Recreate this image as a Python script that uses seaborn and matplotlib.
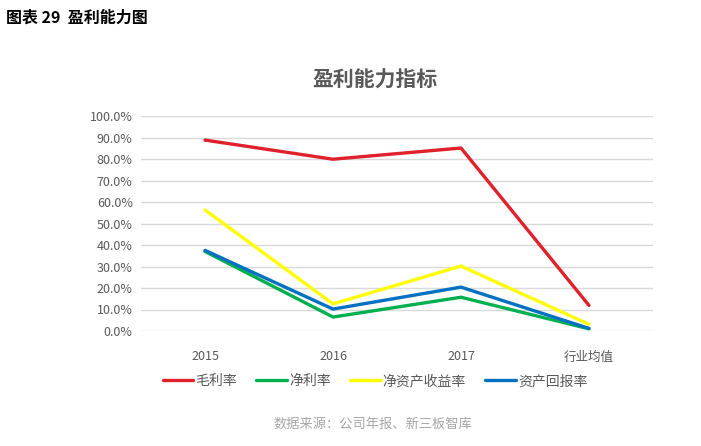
import pandas as pd
import matplotlib
matplotlib.use("Agg")
import matplotlib.pyplot as plt
import seaborn as sns
from matplotlib.ticker import PercentFormatter

# --- Data ---
categories = ["2015", "2016", "2017", "行业均值"]
gross_margin = [0.888, 0.799, 0.851, 0.119]
net_margin = [0.370, 0.065, 0.157, 0.010]
roe = [0.563, 0.126, 0.302, 0.031]
roa = [0.375, 0.102, 0.204, 0.012]
series_names = ["毛利率", "净利率", "净资产收益率", "资产回报率"]
colors = ["#E0202B", "#00B050", "#FFFF00", "#0070C0"]

df = pd.concat([
    pd.DataFrame({"year": categories, "value": vals, "metric": name})
    for name, vals in zip(series_names, [gross_margin, net_margin, roe, roa])
])

sns.set_style("white")
plt.rcParams["font.family"] = ["Noto Sans CJK SC", "DejaVu Sans"]

fig = plt.figure(figsize=(7.01, 4.46), dpi=100)
ax = fig.add_axes([141 / 701, 1 - 331 / 446, 512 / 701, 215 / 446])

sns.lineplot(data=df, x="year", y="value", hue="metric", palette=colors,
             sort=False, linewidth=2.4, ax=ax, legend=False)

ax.set_xlim(-0.5, 3.5)
ax.set_ylim(0, 1.0)
ax.set_yticks([i / 10 for i in range(11)])
ax.yaxis.set_major_formatter(PercentFormatter(1.0, decimals=1))
ax.grid(axis="y", color="#D9D9D9", linewidth=1)
ax.set_axisbelow(True)
for s in ax.spines.values():
    s.set_visible(False)
ax.tick_params(axis="both", length=0, labelsize=9, labelcolor="#595959", pad=14)
ax.tick_params(axis="y", pad=6)
ax.set_xlabel("")
ax.set_ylabel("")

# legend
handles = [plt.Line2D([0], [0], color=c, linewidth=2.4) for c in colors]
fig.legend(handles, series_names, loc="center", bbox_to_anchor=(375 / 701, 1 - 381 / 446),
           ncol=4, frameon=False, fontsize=10, handlelength=2.2, handletextpad=0.15,
           columnspacing=1.4, labelcolor="#595959")

fig.text(375 / 701, 1 - 80 / 446, "盈利能力指标", ha="center", va="center",
         fontsize=15, fontweight="bold", color="#595959")
fig.text(6 / 701, 1 - 18 / 446, "图表 29  盈利能力图", ha="left", va="center",
         fontsize=11.5, fontweight="bold", color="black")
fig.text(373 / 701, 1 - 424 / 446, "数据来源：公司年报、新三板智库", ha="center", va="center",
         fontsize=9.5, color="#A6A6A6")

fig.savefig("out.png", dpi=100)
